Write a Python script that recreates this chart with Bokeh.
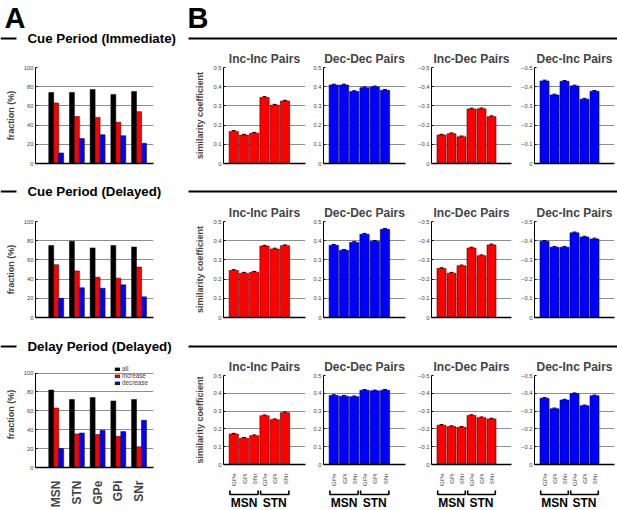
import math
from bokeh.plotting import figure
from bokeh.layouts import column, row
from bokeh.models import Range1d, FixedTicker, ColumnDataSource, Whisker, TeeHead, Legend, LegendItem
from bokeh.core.properties import value
from bokeh.transform import dodge
from bokeh.embed import file_html
from bokeh.resources import INLINE

S = 1.0
FONT = "Liberation Sans"


def px(v):
    return int(round(v * S))


def fs(v):
    return f"{v * S:.2f}px"


# ---------------- data ----------------
regions = ["MSN", "STN", "GPe", "GPi", "SNr"]
period_titles = ["Cue Period (Immediate)", "Cue Period (Delayed)", "Delay Period (Delayed)"]
legend_labels = ["all", "increase", "decrease"]

frac_all_cue_imm = [74, 74, 77, 72, 75]
frac_inc_cue_imm = [63, 49, 48, 43, 54]
frac_dec_cue_imm = [11, 26, 30, 29, 21]

frac_all_cue_del = [75, 79.5, 72.5, 75, 73.5]
frac_inc_cue_del = [55, 48.5, 42, 41, 52.5]
frac_dec_cue_del = [20, 31, 30.5, 34, 21.5]

frac_all_delay = [82, 72, 74, 70.5, 72]
frac_inc_delay = [63, 35.5, 35, 33, 22]
frac_dec_delay = [20, 36.5, 39.5, 38, 50]

pair_titles = ["Inc-Inc Pairs", "Dec-Dec Pairs", "Inc-Dec Pairs", "Dec-Inc Pairs"]
targets = ["GPe", "GPi", "SNr", "GPe", "GPi", "SNr"]
sources = ["MSN", "STN"]

sim_incinc_cue_imm = [0.167, 0.148, 0.158, 0.344, 0.304, 0.325]
sim_decdec_cue_imm = [0.409, 0.409, 0.375, 0.395, 0.399, 0.381]
sim_incdec_cue_imm = [-0.148, -0.155, -0.139, -0.284, -0.285, -0.244]
sim_decinc_cue_imm = [-0.430, -0.357, -0.428, -0.404, -0.335, -0.376]

sim_incinc_cue_del = [0.245, 0.231, 0.236, 0.372, 0.357, 0.374]
sim_decdec_cue_del = [0.376, 0.350, 0.391, 0.434, 0.397, 0.459]
sim_incdec_cue_del = [-0.255, -0.231, -0.269, -0.362, -0.322, -0.378]
sim_decinc_cue_del = [-0.397, -0.366, -0.366, -0.441, -0.419, -0.409]

sim_incinc_delay = [0.171, 0.148, 0.162, 0.274, 0.252, 0.291]
sim_decdec_delay = [0.388, 0.384, 0.381, 0.417, 0.414, 0.417]
sim_incdec_delay = [-0.220, -0.213, -0.209, -0.275, -0.263, -0.256]
sim_decinc_delay = [-0.372, -0.313, -0.362, -0.398, -0.330, -0.386]

sim_err_cue_imm = [0.004, 0.004, 0.004, 0.004, 0.004, 0.004]
sim_err_cue_del = [0.004, 0.004, 0.004, 0.004, 0.004, 0.004]
sim_err_delay = [0.004, 0.004, 0.004, 0.004, 0.004, 0.004]

frac_ticks = [0, 20, 40, 60, 80, 100]
sim_ticks_pos = [0, 0.1, 0.2, 0.3, 0.4, 0.5]
sim_ticks_neg = [0, -0.1, -0.2, -0.3, -0.4, -0.5]

# ---------------- layout geometry (reference pixels) ----------------
col_x = [0, 175, 310, 415, 518, 617]
frame_l = [35, 223, 323, 429, 532]
frame_r = [153, 305, 405, 511, 614]

GRID = "#8f8f8f"
TICKC = "#444444"
RED = "#ff0000"
BLUE = "#0000ff"


def base_fig(ci, y0, y1, ft, fb, xr, yr):
    w = px(col_x[ci + 1]) - px(col_x[ci])
    bl = px(frame_l[ci]) - px(col_x[ci])
    br = px(col_x[ci + 1]) - px(frame_r[ci])
    h = px(y1) - px(y0)
    bt = px(ft) - px(y0)
    bb = px(y1) - px(fb)
    p = figure(width=w, height=h, x_range=xr, y_range=yr,
               output_backend="svg", toolbar_location=None,
               min_border_left=bl, min_border_right=br,
               min_border_top=bt, min_border_bottom=bb)
    p.outline_line_color = None
    p.xgrid.grid_line_color = None
    p.ygrid.grid_line_color = GRID
    p.ygrid.grid_line_width = 1
    for ax in (p.xaxis[0], p.yaxis[0]):
        ax.minor_tick_line_color = None
        ax.major_label_text_font = FONT
        ax.axis_label_text_font = FONT
        ax.axis_line_color = "black"
    p.yaxis.major_tick_in = px(2)
    p.yaxis.major_tick_out = 0
    p.yaxis.major_label_text_font_size = fs(5.8)
    p.yaxis.major_label_text_color = TICKC
    p.yaxis.major_label_standoff = px(2)
    p.xaxis.major_tick_line_color = None
    p.xaxis.axis_line_width = 1.3
    return p


def make_A(vals_all, vals_inc, vals_dec, y0, y1, ft, fb, labels=False, legend=False):
    yr = Range1d(0, 100)
    if legend:
        # frame reaches a little above the 100 line so that the legend is not clipped
        yr = Range1d(0, 100 * (fb - (ft - 12)) / (fb - ft))
        ft = ft - 12
    p = base_fig(0, y0, y1, ft, fb, Range1d(0, 5.7), yr)
    p.yaxis.ticker = FixedTicker(ticks=frac_ticks)
    p.yaxis.bounds = (0, 100)
    p.ygrid.ticker = FixedTicker(ticks=frac_ticks)
    p.yaxis.axis_label = "fraction (%)"
    p.yaxis.axis_label_text_font_style = "bold"
    p.yaxis.axis_label_text_font_size = fs(9)
    p.yaxis.axis_label_standoff = px(5)
    xs = list(range(1, len(regions) + 1))
    src = ColumnDataSource(dict(x=xs, a=vals_all, i=vals_inc, d=vals_dec))
    kw = dict(width=0.24, line_color="black", line_width=0.5, source=src)
    ra = p.vbar(x=dodge("x", -0.24), top="a", fill_color="black", **kw)
    ri = p.vbar(x=dodge("x", 0.0), top="i", fill_color=RED, **kw)
    rd = p.vbar(x=dodge("x", 0.24), top="d", fill_color=BLUE, **kw)
    if labels:
        p.xaxis.ticker = FixedTicker(ticks=xs)
        p.xaxis.major_label_overrides = {x: r for x, r in zip(xs, regions)}
        p.xaxis.major_label_orientation = math.pi / 2
        p.xaxis.major_label_text_font_style = "bold"
        p.xaxis.major_label_text_font_size = fs(12)
        p.xaxis.major_label_standoff = px(7)
    else:
        p.xaxis.ticker = FixedTicker(ticks=[])
    if legend:
        lg = Legend(items=[LegendItem(label=legend_labels[0], renderers=[ra]),
                           LegendItem(label=legend_labels[1], renderers=[ri]),
                           LegendItem(label=legend_labels[2], renderers=[rd])],
                    location=(px(79), px(81)))
        lg.label_text_font = FONT
        lg.label_text_font_size = fs(6.3)
        lg.glyph_width = px(6)
        lg.glyph_height = px(4)
        lg.label_height = px(7)
        lg.label_standoff = px(2)
        lg.spacing = 0
        lg.padding = 0
        lg.margin = 0
        lg.border_line_color = None
        lg.background_fill_alpha = 0
        p.add_layout(lg, "center")
    return p


def make_B(ci, vals, errs, title, y0, y1, ft, fb, color, labels=False):
    neg = vals[0] < 0
    ticks = sim_ticks_neg if neg else sim_ticks_pos
    yr = Range1d(0, -0.5) if neg else Range1d(0, 0.5)
    p = base_fig(ci, y0, y1, ft, fb, Range1d(0, 8), yr)
    p.title.text = title
    p.title.align = "center"
    p.title.text_font = FONT
    p.title.text_font_style = "bold"
    p.title.text_font_size = fs(12)
    p.title.standoff = px(3)
    p.yaxis.ticker = FixedTicker(ticks=ticks)
    p.ygrid.ticker = FixedTicker(ticks=ticks)
    p.yaxis.major_label_overrides = {0: "0"}
    if ci == 1:
        p.yaxis.axis_label = "similarity coefficient"
        p.yaxis.axis_label_text_font_style = "bold"
        p.yaxis.axis_label_text_font_size = fs(9)
        p.yaxis.axis_label_standoff = px(5)
    xs = list(range(1, len(vals) + 1))
    sg = -1 if neg else 1
    src = ColumnDataSource(dict(x=xs, top=vals,
                                up=[v + sg * e for v, e in zip(vals, errs)],
                                lo=[v - sg * e for v, e in zip(vals, errs)]))
    p.vbar(x="x", top="top", width=0.9, fill_color=color,
           line_color="#400000" if color == RED else "#000040",
           line_width=0.6, source=src)
    p.add_layout(Whisker(source=src, base="x", upper="up", lower="lo",
                         line_color="black", line_width=1,
                         upper_head=TeeHead(size=px(4), line_color="black", line_width=1),
                         lower_head=None))
    if labels:
        p.xaxis.ticker = FixedTicker(ticks=xs)
        p.xaxis.major_label_overrides = {x: t for x, t in zip(xs, targets)}
        p.xaxis.major_label_orientation = math.pi / 2
        p.xaxis.major_label_text_font_size = fs(6.2)
        p.xaxis.major_label_text_color = TICKC
        p.xaxis.major_label_standoff = px(3)
    else:
        p.xaxis.ticker = FixedTicker(ticks=[])
    return p


def make_bracket(ci, xr, y0, y1):
    w = px(col_x[ci + 1]) - px(col_x[ci])
    bl = px(frame_l[ci]) - px(col_x[ci])
    br = px(col_x[ci + 1]) - px(frame_r[ci])
    h = px(y1) - px(y0)
    p = figure(width=w, height=h, x_range=xr, y_range=Range1d(y1 - y0, 0),
               output_backend="svg", toolbar_location=None,
               x_axis_location=None, y_axis_location=None,
               min_border_left=bl, min_border_right=br, min_border_top=0, min_border_bottom=0)
    p.outline_line_color = None
    p.grid.grid_line_color = None
    n = len(targets) // len(sources)
    pad = 0.38
    bx, by, tx = [], [], []
    for g in range(len(sources)):
        a = g * n + 1 - pad
        b = g * n + n + pad
        bx.append([a, a, b, b])
        by.append([2, 6, 6, 2])
        tx.append(g * n + (n + 1) / 2)
    p.multi_line(xs=bx, ys=by, line_color="black", line_width=1.6)
    p.text(x=tx, y=[14.5] * len(tx), text=sources, text_align="center", text_baseline="middle",
           text_font=value(FONT), text_font_style="bold", text_font_size=fs(12), text_color="black")
    return p


def make_strip(y0, y1, yline, title, letters=False):
    H = y1 - y0
    p = figure(width=px(617), height=px(y1) - px(y0), x_range=Range1d(0, 617), y_range=Range1d(H, 0),
               output_backend="svg", toolbar_location=None,
               x_axis_location=None, y_axis_location=None, min_border=0)
    p.outline_line_color = None
    p.grid.grid_line_color = None
    p.segment(x0=[0, 188], y0=[yline, yline], x1=[16, 617], y1=[yline, yline],
              line_color="black", line_width=2 * S)
    p.text(x=[27], y=[yline], text=[title], text_baseline="middle", text_align="left",
           text_font=value(FONT), text_font_style="bold", text_font_size=fs(13.3), text_color="black")
    if letters:
        p.text(x=[4, 187], y=[17, 17], text=["A", "B"], text_baseline="middle",
               text_font=value(FONT), text_font_style="bold", text_font_size=fs(29), text_color="black")
    return p


colors = [RED, BLUE, RED, BLUE]

strip1 = make_strip(0, 48, 38, period_titles[0], letters=True)
row1 = row(
    make_A(frac_all_cue_imm, frac_inc_cue_imm, frac_dec_cue_imm, 48, 176, 66, 163),
    *[make_B(k + 1, v, sim_err_cue_imm, pair_titles[k], 48, 176, 66, 163, colors[k])
      for k, v in enumerate([sim_incinc_cue_imm, sim_decdec_cue_imm, sim_incdec_cue_imm, sim_decinc_cue_imm])],
)
strip2 = make_strip(176, 202, 15, period_titles[1])
row2 = row(
    make_A(frac_all_cue_del, frac_inc_cue_del, frac_dec_cue_del, 202, 330, 220, 317),
    *[make_B(k + 1, v, sim_err_cue_del, pair_titles[k], 202, 330, 220, 317, colors[k])
      for k, v in enumerate([sim_incinc_cue_del, sim_decdec_cue_del, sim_incdec_cue_del, sim_decinc_cue_del])],
)
strip3 = make_strip(330, 356, 16, period_titles[2])
b3 = []
for k, v in enumerate([sim_incinc_delay, sim_decdec_delay, sim_incdec_delay, sim_decinc_delay]):
    pb = make_B(k + 1, v, sim_err_delay, pair_titles[k], 356, 488, 373, 471, colors[k], labels=True)
    b3.append(column(pb, make_bracket(k + 1, pb.x_range, 488, 510)))
row3 = row(
    make_A(frac_all_delay, frac_inc_delay, frac_dec_delay, 356, 510, 373, 471, labels=True, legend=True),
    *b3,
)

layout = column(strip1, row1, strip2, row2, strip3, row3)
open("out.html", "w").write(file_html(layout, INLINE))
